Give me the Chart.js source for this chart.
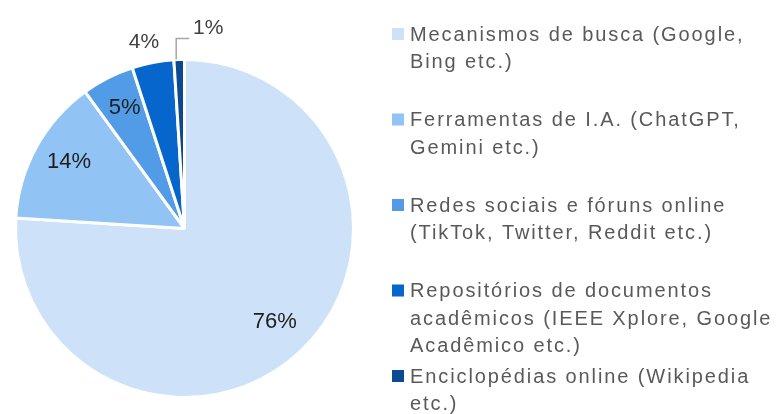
<!DOCTYPE html>
<html>
<head>
<meta charset="utf-8">
<script src="https://cdn.jsdelivr.net/npm/chart.js@4.4.1/dist/chart.umd.min.js"></script>
<style>
  html, body { margin: 0; padding: 0; background: #fff; }
  #grafico { display: block; }
</style>
</head>
<body>
<canvas id="grafico" width="776" height="414"></canvas>
<script>
// categorias (cada uma quebrada em linhas como na legenda original)
const categorias = [
  ['Mecanismos de busca (Google,', 'Bing etc.)'],
  ['Ferramentas de I.A. (ChatGPT,', 'Gemini etc.)'],
  ['Redes sociais e fóruns online', '(TikTok, Twitter, Reddit etc.)'],
  ['Repositórios de documentos', 'acadêmicos (IEEE Xplore, Google', 'Acadêmico etc.)'],
  ['Enciclopédias online (Wikipedia', 'etc.)']
];
const percentuais = [76, 14, 5, 4, 1];
const cores = ['#cde2f8', '#91c3f5', '#529ce7', '#0666cc', '#0c4991'];

const fonte = '"Liberation Sans", Arial, sans-serif';

// rótulos de porcentagem sobre as fatias
const rotulosPlugin = {
  id: 'rotulos',
  afterDatasetsDraw(chart) {
    const ctx = chart.ctx;
    const meta = chart.getDatasetMeta(0);
    const total = percentuais.reduce((a, b) => a + b, 0);
    ctx.save();
    ctx.textAlign = 'center';
    ctx.textBaseline = 'middle';
    meta.data.forEach((arc, i) => {
      const p = arc.getProps(['x', 'y', 'startAngle', 'endAngle', 'outerRadius'], true);
      const meio = (p.startAngle + p.endAngle) / 2;
      const texto = percentuais[i] + '%';
      const parte = percentuais[i] / total;
      if (parte >= 0.05) {
        const r = p.outerRadius * 0.78;
        ctx.font = '22px ' + fonte;
        ctx.fillStyle = '#1e1e1e';
        ctx.fillText(texto, p.x + Math.cos(meio) * r, p.y + Math.sin(meio) * r - 3);
      } else if (parte >= 0.02) {
        const r = p.outerRadius * 1.12;
        ctx.font = '21px ' + fonte;
        ctx.fillStyle = '#404040';
        ctx.fillText(texto, p.x + Math.cos(meio) * r - 5, p.y + Math.sin(meio) * r);
      } else {
        // fatia muito pequena: linha de chamada
        const bx = p.x + Math.cos(meio) * p.outerRadius - 3;
        const by = p.y + Math.sin(meio) * p.outerRadius;
        const topo = by - 21;
        ctx.strokeStyle = '#a6a6a6';
        ctx.lineWidth = 1.5;
        ctx.beginPath();
        ctx.moveTo(bx, by);
        ctx.lineTo(bx, topo);
        ctx.lineTo(bx + 13, topo);
        ctx.stroke();
        ctx.font = '21px ' + fonte;
        ctx.fillStyle = '#404040';
        ctx.fillText(texto, bx + 32, topo - 10);
      }
    });
    ctx.restore();
  }
};

// legenda lateral com texto em várias linhas
const legendaPlugin = {
  id: 'legendaLateral',
  afterDraw(chart) {
    const ctx = chart.ctx;
    const x0 = 392, y0 = 35, passo = 85.5, linha = 27.5, lado = 12;
    ctx.save();
    ctx.font = '20px ' + fonte;
    ctx.letterSpacing = '1.9px';
    ctx.textAlign = 'left';
    ctx.textBaseline = 'middle';
    chart.data.labels.forEach((linhas, i) => {
      const y = y0 + i * passo;
      ctx.fillStyle = cores[i];
      ctx.fillRect(x0, y - lado / 2 - 1, lado, lado);
      ctx.fillStyle = '#595959';
      linhas.forEach((t, j) => {
        ctx.fillText(t, x0 + 18, y + j * linha);
      });
    });
    ctx.restore();
  }
};

const ctx = document.getElementById('grafico').getContext('2d');
const grafico = new Chart(ctx, {
  type: 'pie',
  data: {
    labels: categorias,
    datasets: [{
      data: percentuais,
      backgroundColor: cores,
      borderColor: '#ffffff',
      borderWidth: 3
    }]
  },
  options: {
    responsive: false,
    animation: false,
    devicePixelRatio: 1,
    layout: {
      padding: { left: 14, top: 58, right: 421, bottom: 15 }
    },
    plugins: {
      legend: { display: false },
      tooltip: { enabled: false }
    }
  },
  plugins: [rotulosPlugin, legendaPlugin]
});
</script>
</body>
</html>
